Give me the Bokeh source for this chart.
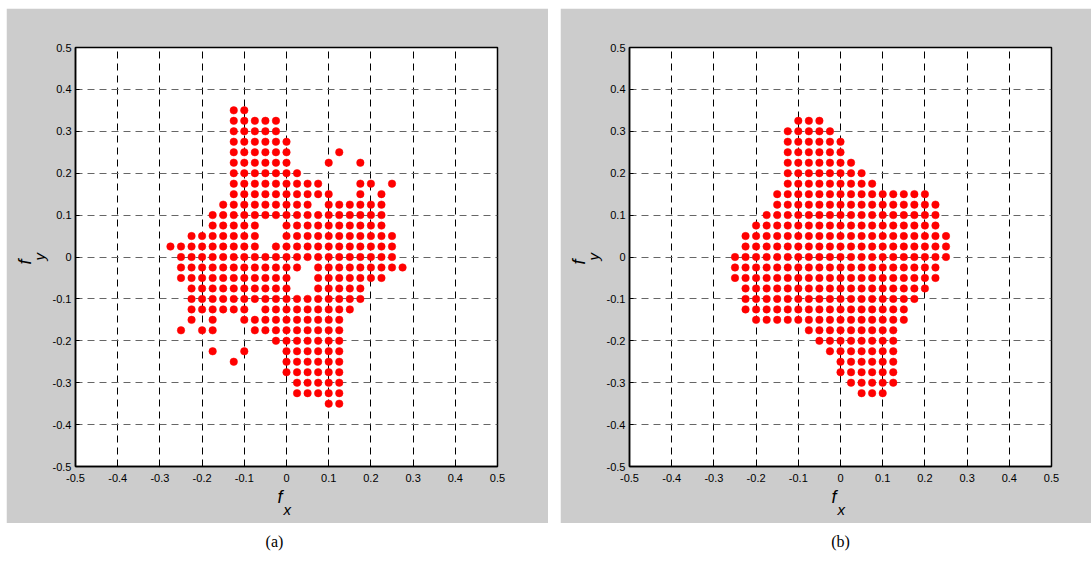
from bokeh.plotting import figure
from bokeh.models import Label, Title, FixedTicker, CustomJSTickFormatter, Spacer, Range1d
from bokeh.layouts import row, column
from bokeh.embed import file_html
from bokeh.resources import INLINE

STEP = 0.025
TICKS = [-0.5, -0.4, -0.3, -0.2, -0.1, 0.0, 0.1, 0.2, 0.3, 0.4, 0.5]
TICK_LABELS = ["-0.5", "-0.4", "-0.3", "-0.2", "-0.1", "0", "0.1", "0.2", "0.3", "0.4", "0.5"]
CAPTIONS = ["(a)", "(b)"]
X_LABEL = ("f", "x")
Y_LABEL = ("f", "y")

# panel (a): each row y -> runs of dots [x_start, x_end] on the 0.025 grid
a_rows_y = [0.35, 0.325, 0.3, 0.275, 0.25, 0.225, 0.2, 0.175, 0.15, 0.125, 0.1, 0.075,
            0.05, 0.025, 0.0, -0.025, -0.05, -0.075, -0.1, -0.125, -0.15, -0.175, -0.2,
            -0.225, -0.25, -0.275, -0.3, -0.325, -0.35]
a_rows_runs = [
    [(-0.125, -0.1)],
    [(-0.125, -0.025)],
    [(-0.125, -0.025)],
    [(-0.125, 0.0)],
    [(-0.125, 0.0), (0.125, 0.125)],
    [(-0.125, 0.0), (0.1, 0.1), (0.175, 0.175)],
    [(-0.125, 0.025)],
    [(-0.125, 0.075), (0.175, 0.2), (0.25, 0.25)],
    [(-0.125, 0.1), (0.175, 0.175), (0.225, 0.225)],
    [(-0.15, 0.05), (0.1, 0.225)],
    [(-0.175, 0.225)],
    [(-0.175, -0.075), (0.0, 0.225)],
    [(-0.225, -0.075), (0.0, 0.25)],
    [(-0.275, -0.075), (-0.025, 0.25)],
    [(-0.25, 0.25)],
    [(-0.25, 0.025), (0.075, 0.275)],
    [(-0.25, 0.0), (0.075, 0.225)],
    [(-0.225, 0.0), (0.075, 0.175)],
    [(-0.225, 0.175)],
    [(-0.225, -0.1), (-0.05, 0.15)],
    [(-0.225, -0.225), (-0.175, -0.175), (-0.1, 0.125)],
    [(-0.25, -0.25), (-0.2, -0.175), (-0.075, 0.125)],
    [(-0.025, 0.125)],
    [(-0.175, -0.175), (-0.1, -0.1), (0.0, 0.125)],
    [(-0.125, -0.125), (0.0, 0.125)],
    [(0.0, 0.125)],
    [(0.025, 0.125)],
    [(0.025, 0.125)],
    [(0.1, 0.125)],
]

# panel (b)
b_rows_y = [0.325, 0.3, 0.275, 0.25, 0.225, 0.2, 0.175, 0.15, 0.125, 0.1, 0.075, 0.05,
            0.025, 0.0, -0.025, -0.05, -0.075, -0.1, -0.125, -0.15, -0.175, -0.2, -0.225,
            -0.25, -0.275, -0.3, -0.325]
b_rows_runs = [
    [(-0.1, -0.05)],
    [(-0.125, -0.025)],
    [(-0.125, 0.0)],
    [(-0.125, 0.0)],
    [(-0.125, 0.025)],
    [(-0.125, 0.05)],
    [(-0.125, 0.075)],
    [(-0.15, 0.2)],
    [(-0.15, 0.225)],
    [(-0.175, 0.225)],
    [(-0.2, 0.225)],
    [(-0.225, 0.25)],
    [(-0.225, 0.25)],
    [(-0.25, 0.25)],
    [(-0.25, 0.225)],
    [(-0.25, 0.225)],
    [(-0.225, 0.2)],
    [(-0.225, 0.175)],
    [(-0.225, 0.15)],
    [(-0.2, 0.15)],
    [(-0.075, 0.125)],
    [(-0.05, 0.125)],
    [(-0.025, 0.125)],
    [(0.0, 0.125)],
    [(0.0, 0.125)],
    [(0.025, 0.125)],
    [(0.05, 0.1)],
]


def expand(rows_y, rows_runs):
    xs, ys = [], []
    for y, runs in zip(rows_y, rows_runs):
        for x0, x1 in runs:
            n = int(round((x1 - x0) / STEP))
            for i in range(n + 1):
                xs.append(round(x0 + i * STEP, 4))
                ys.append(y)
    return xs, ys


GRAY = "#cccccc"
FONT = "Liberation Sans"


def make_title(text, size, offset, standoff):
    return Title(text=text, align="left", offset=offset, standoff=standoff,
                 text_font=FONT, text_font_style="italic", text_font_size=size,
                 text_color="black")


def make_panel(xs, ys, width, b_left, b_right):
    p = figure(width=width, height=515, x_range=Range1d(-0.5, 0.5), y_range=Range1d(-0.5, 0.5),
               output_backend="svg", toolbar_location=None,
               min_border_left=b_left, min_border_right=b_right,
               min_border_top=39, min_border_bottom=57,
               background_fill_color="white", border_fill_color=GRAY,
               outline_line_color="black", outline_line_width=1.5)
    fmt = CustomJSTickFormatter(args=dict(tvals=TICKS, tlabels=TICK_LABELS), code="""
        let best = 0;
        for (let i = 0; i < tvals.length; i++) {
            if (Math.abs(tvals[i] - tick) < Math.abs(tvals[best] - tick)) best = i;
        }
        return tlabels[best];
    """)
    for ax in (p.xaxis[0], p.yaxis[0]):
        ax.ticker = FixedTicker(ticks=TICKS)
        ax.formatter = fmt
        ax.minor_tick_line_color = None
        ax.major_tick_in = 4
        ax.major_tick_out = 0
        ax.major_tick_line_color = "black"
        ax.axis_line_color = "black"
        ax.axis_line_width = 1.5
        ax.major_label_text_font = FONT
        ax.major_label_text_font_size = "11px"
        ax.major_label_text_color = "black"
    p.xaxis[0].major_label_standoff = 7
    p.yaxis[0].major_label_standoff = 4

    p.xgrid.grid_line_color = "black"
    p.xgrid.grid_line_dash = "7 5"
    p.xgrid.grid_line_width = 1
    p.ygrid.grid_line_color = "#666666"
    p.ygrid.grid_line_dash = "7 5"
    p.ygrid.grid_line_width = 1.2

    p.scatter(xs, ys, size=7.5, fill_color="red", line_color="red", line_width=0.5)

    # axis labels: italic f with a lowered subscript
    p.add_layout(make_title(X_LABEL[0], "18px", 202, 0), "below")
    p.add_layout(make_title(X_LABEL[1], "15px", 208, -16), "below")
    p.add_layout(make_title(Y_LABEL[1], "15px", 206, 4), "left")
    p.add_layout(make_title(Y_LABEL[0], "18px", 202, -16), "left")
    return p


ax_, ay_ = expand(a_rows_y, a_rows_runs)
bx_, by_ = expand(b_rows_y, b_rows_runs)

pa = make_panel(ax_, ay_, 542, 69, 51)
pb = make_panel(bx_, by_, 531, 69, 40)

cap = figure(width=1092, height=36, x_range=Range1d(0, 1092), y_range=Range1d(0, 36),
             output_backend="svg", toolbar_location=None, x_axis_type=None, y_axis_type=None,
             min_border=0, outline_line_color=None, background_fill_color="white",
             border_fill_color="white")
cap.xgrid.visible = False
cap.ygrid.visible = False
for cx, txt in zip([274, 840], CAPTIONS):
    cap.add_layout(Label(x=cx, y=18, x_units="screen", y_units="screen", text=txt,
                         text_font="Liberation Serif", text_font_size="16px",
                         text_align="center", text_baseline="middle", text_color="black"))

layout = column(Spacer(width=10, height=8),
                row(Spacer(width=6, height=515), pa, Spacer(width=12, height=515), pb),
                cap)

with open("out.html", "w") as f:
    f.write(file_html(layout, INLINE))
